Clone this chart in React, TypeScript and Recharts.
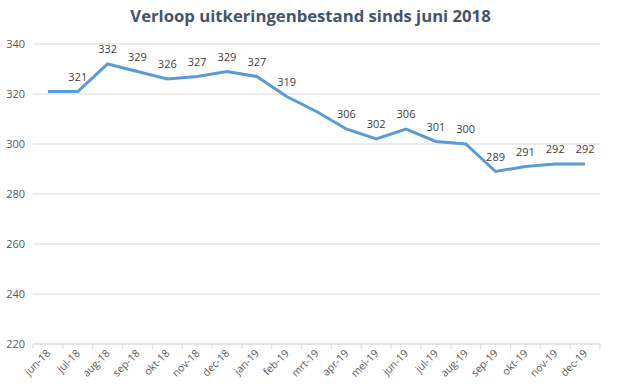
import React from 'react';
import { LineChart, Line, XAxis, YAxis, CartesianGrid, LabelList } from 'recharts';

// months shown on the x axis
const months = [
  'jun-18', 'jul-18', 'aug-18', 'sep-18', 'okt-18', 'nov-18', 'dec-18',
  'jan-19', 'feb-19', 'mrt-19', 'apr-19', 'mei-19', 'jun-19', 'jul-19',
  'aug-19', 'sep-19', 'okt-19', 'nov-19', 'dec-19',
];

// number of benefits per month
const stock = [321, 321, 332, 329, 326, 327, 329, 327, 319, 313, 306, 302, 306, 301, 300, 289, 291, 292, 292];

// data labels as printed (no label on jun-18 and mrt-19)
const shownLabels = [null, 321, 332, 329, 326, 327, 329, 327, 319, null, 306, 302, 306, 301, 300, 289, 291, 292, 292];

const yTicks = [220, 240, 260, 280, 300, 320, 340];

const chartData = months.map((m, i) => ({ month: m, value: stock[i], label: shownLabels[i] }));

const FONT = '"Open Sans", "Noto Sans", sans-serif';
const PLOT_LEFT = 33;
const PLOT_RIGHT = 600;
const BAND = (PLOT_RIGHT - PLOT_LEFT) / months.length;

function MonthTick(props: any) {
  const { x, y, payload, index } = props;
  const left = x - BAND / 2;
  return (
    <g>
      <line x1={left} y1={y - 8} x2={left} y2={y - 3} stroke="#D9D9D9" />
      {index === months.length - 1 && (
        <line x1={x + BAND / 2} y1={y - 8} x2={x + BAND / 2} y2={y - 3} stroke="#D9D9D9" />
      )}
      <text
        x={x + 3}
        y={y + 2}
        transform={`rotate(-45, ${x + 3}, ${y + 2})`}
        textAnchor="end"
        fontSize={10.5}
        fill="#595959"
        fontFamily={FONT}
      >
        {payload.value}
      </text>
    </g>
  );
}

function ValueLabel(props: any) {
  const { x, y, value } = props;
  if (value == null) return null;
  return (
    <text x={x} y={y - 11} textAnchor="middle" fontSize={11} fill="#404040" fontFamily={FONT}>
      {value}
    </text>
  );
}

export default function App() {
  return (
    <div style={{ position: 'absolute', left: 0, top: 0, width: 621, height: 392, background: '#fff' }}>
      <div
        style={{
          position: 'absolute',
          top: 4,
          left: 0,
          width: 621,
          textAlign: 'center',
          fontFamily: FONT,
          fontWeight: 700,
          fontSize: 16.7,
          color: '#44546A',
        }}
      >
        Verloop uitkeringenbestand sinds juni 2018
      </div>
      <LineChart
        width={621}
        height={392}
        data={chartData}
        margin={{ top: 44, right: 621 - PLOT_RIGHT, bottom: 0, left: 0 }}
      >
        <CartesianGrid vertical={false} stroke="#D9D9D9" />
        <XAxis
          dataKey="month"
          height={48}
          padding={{ left: BAND / 2, right: BAND / 2 }}
          tick={<MonthTick />}
          tickLine={false}
          axisLine={{ stroke: '#D9D9D9' }}
          interval={0}
        />
        <YAxis
          width={PLOT_LEFT}
          domain={[220, 340]}
          ticks={yTicks}
          axisLine={false}
          tickLine={false}
          tick={{ fontSize: 11, fill: '#595959', fontFamily: FONT }}
        />
        <Line
          type="linear"
          dataKey="value"
          stroke="#5B9BD5"
          strokeWidth={3}
          dot={false}
          isAnimationActive={false}
        >
          <LabelList dataKey="label" content={<ValueLabel />} />
        </Line>
      </LineChart>
    </div>
  );
}
